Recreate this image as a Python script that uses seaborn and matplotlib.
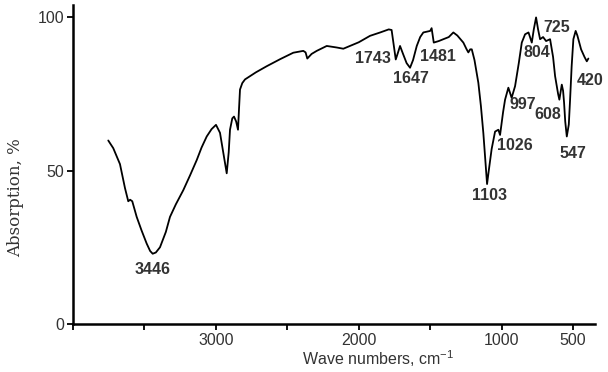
import matplotlib
matplotlib.use("Agg")
import matplotlib.pyplot as plt
import seaborn as sns
import pandas as pd

# ---- data ----
wavenumber = [3753, 3718, 3671, 3636, 3613, 3600, 3585, 3554, 3520, 3484, 3460, 3442,
              3420, 3391, 3350, 3321, 3280, 3228, 3180, 3134, 3100, 3064, 3030, 2999,
              2971, 2945, 2924, 2910, 2901, 2885, 2873, 2858, 2845, 2838, 2831, 2815,
              2796, 2720, 2644, 2550, 2458, 2388, 2372, 2360, 2330, 2294, 2224, 2154,
              2108, 2000, 1921, 1850, 1790, 1770, 1741, 1725, 1711, 1690, 1665, 1641,
              1620, 1594, 1570, 1548, 1500, 1490, 1475, 1440, 1408, 1370, 1338, 1310,
              1268, 1245, 1233, 1220, 1209, 1190, 1163, 1145, 1128, 1112, 1102, 1090,
              1070, 1046, 1023, 1011, 990, 976, 953, 930, 906, 880, 859, 836, 812, 789,
              775, 759, 745, 731, 710, 689, 661, 640, 626, 605, 596, 579, 570, 563, 555,
              544, 530, 521, 510, 498, 482, 470, 444, 420, 404, 393]
absorption = [59.8, 57.3, 52.1, 44.3, 40.0, 40.5, 40.0, 34.9, 30.5, 26.2, 23.8, 22.9,
              23.3, 25.0, 30.0, 34.9, 39.0, 43.6, 48.5, 53.4, 57.5, 61.1, 63.5, 64.9,
              62.3, 55.0, 49.1, 56.0, 63.3, 67.0, 67.6, 66.0, 63.3, 70.0, 76.4, 78.5,
              79.7, 82.0, 84.0, 86.3, 88.4, 89.0, 88.5, 86.5, 88.0, 89.0, 90.6, 90.1,
              89.7, 91.8, 93.9, 95.0, 96.0, 95.8, 86.2, 88.5, 90.6, 88.0, 85.0, 83.5,
              86.0, 90.6, 93.5, 95.0, 95.5, 96.4, 91.7, 92.2, 92.8, 93.5, 95.0, 94.0,
              91.7, 89.5, 88.5, 89.5, 89.5, 86.0, 78.6, 71.0, 62.2, 52.0, 45.6, 50.0,
              57.0, 62.7, 63.3, 61.6, 69.0, 73.1, 77.0, 73.7, 77.5, 85.0, 91.7, 94.4,
              95.0, 91.7, 96.0, 99.9, 96.0, 92.8, 93.5, 92.2, 92.8, 87.0, 80.8, 75.0,
              73.1, 78.0, 76.0, 72.1, 66.0, 61.1, 65.0, 73.1, 84.0, 92.8, 95.5, 94.0,
              89.5, 87.0, 85.6, 86.5]

peak_labels = ["3446", "1743", "1647", "1481", "1103", "1026", "997", "804",
               "725", "608", "547", "420"]
peak_label_x = [3442, 1903, 1634, 1448, 1088, 906, 853, 754, 614, 675, 504, 378]
peak_label_y = [17.7, 86.5, 79.9, 87.1, 41.9, 58.1, 71.5, 88.6, 96.6, 68.4, 55.6, 79.3]

x_ticks = [4000, 3500, 3000, 2500, 2000, 1500, 1000, 500]
x_tick_labels = ["", "", "3000", "", "2000", "", "1000", "500"]
y_ticks = [0, 50, 100]
y_tick_labels = ["0", "50", "100"]

df = pd.DataFrame({"wavenumber": wavenumber, "absorption": absorption})

sns.set_style("ticks")
plt.rcParams["font.family"] = ["Liberation Sans", "DejaVu Sans"]
plt.rcParams["mathtext.fontset"] = "custom"
plt.rcParams["mathtext.rm"] = "Liberation Sans"

fig = plt.figure(figsize=(6.08, 3.72), dpi=100)
ax = fig.add_axes([0.120, 0.129, 0.859, 0.858])

sns.lineplot(data=df, x="wavenumber", y="absorption", ax=ax, color="black",
             linewidth=1.3, sort=False, estimator=None)

ax.set_xlim(4000, 345)
ax.set_ylim(0, 104)

ax.set_xticks(x_ticks)
ax.set_xticklabels(x_tick_labels)
ax.set_yticks(y_ticks)
ax.set_yticklabels(y_tick_labels)
ax.tick_params(axis="both", direction="out", length=4, width=1.3, color="black",
               labelsize=11.5, labelcolor="#333333", pad=2.5)

for s in ["top", "right"]:
    ax.spines[s].set_visible(False)
for s in ["left", "bottom"]:
    ax.spines[s].set_linewidth(1.8)
    ax.spines[s].set_color("black")

ax.set_ylabel("Absorption, %", family="DejaVu Serif", fontsize=12, color="#333333",
              ha="center", va="center")
ax.yaxis.set_label_coords(-0.11, 0.395)
ax.set_xlabel("Wave numbers, cm$^{\\mathregular{-1}}$", fontsize=11.5, color="#333333",
              ha="center", va="center")
ax.xaxis.set_label_coords(0.584, -0.107)

for t, xx, yy in zip(peak_labels, peak_label_x, peak_label_y):
    ax.text(xx, yy, t, ha="center", va="center", fontsize=11.5, fontweight="bold",
            color="#333333")

fig.savefig("out.png", dpi=100)
